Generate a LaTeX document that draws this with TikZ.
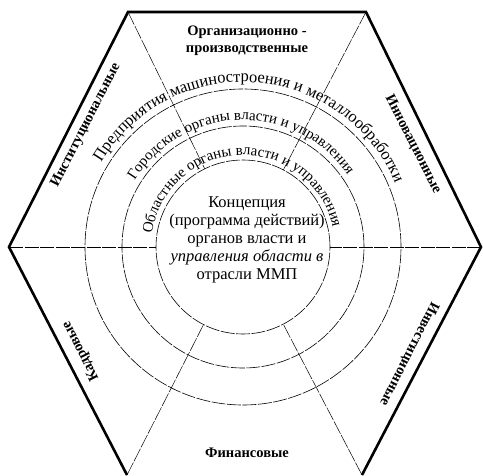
\documentclass[tikz,border=0pt]{standalone}
\usepackage{fontspec}
\setmainfont{Liberation Serif}
\usetikzlibrary{calc,decorations.text}

\begin{document}
\begin{tikzpicture}[x=1pt, y=1pt,
  rim/.style={line width=2.6pt, line join=miter},
  ring/.style={line width=0.6pt, dash pattern=on 14pt off 1.5pt},
  spoke/.style={line width=0.5pt, dash pattern=on 14pt off 1.5pt},
  sector/.style={font=\fontsize{14.5}{17}\selectfont\bfseries, align=center, inner sep=1pt},
  core/.style={font=\fontsize{16.5}{18}\selectfont, align=center, inner sep=0pt},
  arctext/.style={decorate, decoration={text along path, text align=center, text={#1}}}]
\useasboundingbox (0,0) rectangle (483,475);
\coordinate (c) at (243,228);
\coordinate (tl) at (128,463);
\coordinate (tr) at (366,463);
\coordinate (r) at (481,228);
\coordinate (br) at (362,0);
\coordinate (bl) at (127,0);
\coordinate (l) at (9,228);
\draw[rim] (bl) -- (l) -- (tl) -- (tr) -- (r) -- (br);
\foreach \rad in {87,121,158} \draw[ring] (c) circle[radius=\rad];
\foreach \v in {tl,tr,l,r,bl,br} \draw[spoke] (\v) -- ($(c)!87pt!(\v)$);
% texts on the rings
\path[arctext={|\fontsize{16.5}{18}\selectfont|Предприятия машиностроения и металлообработки}]
  ($(c)+(172:165)$) arc[start angle=172, end angle=0, radius=165];
\path[arctext={|\fontsize{15}{17}\selectfont|Городские органы власти и управления}]
  ($(c)+(175:127)$) arc[start angle=175, end angle=8, radius=127];
\path[arctext={|\fontsize{15}{17}\selectfont|Областные органы власти и управления}]
  ($(c)+(178:92)$) arc[start angle=178, end angle=6, radius=92];
\node[core] (concept) at (247,235) {Концепция\\(программа действий)\\органов власти и\\\textit{управления области в}\\отрасли ММП};
% sectors
\node[sector] (org) at (247,434) {Организационно -\\производственные};
\node[sector, rotate=63] (inst) at (86,350) {Институциональные};
\node[sector, rotate=-63] (innov) at (413,331) {Инновационные};
\node[sector, rotate=-117] (invest) at (409,121) {Инвестиционные};
\node[sector, rotate=117] (staff) at (81,124) {Кадровые};
\node[sector] (fin) at (247,22) {Финансовые};
\end{tikzpicture}
\end{document}
